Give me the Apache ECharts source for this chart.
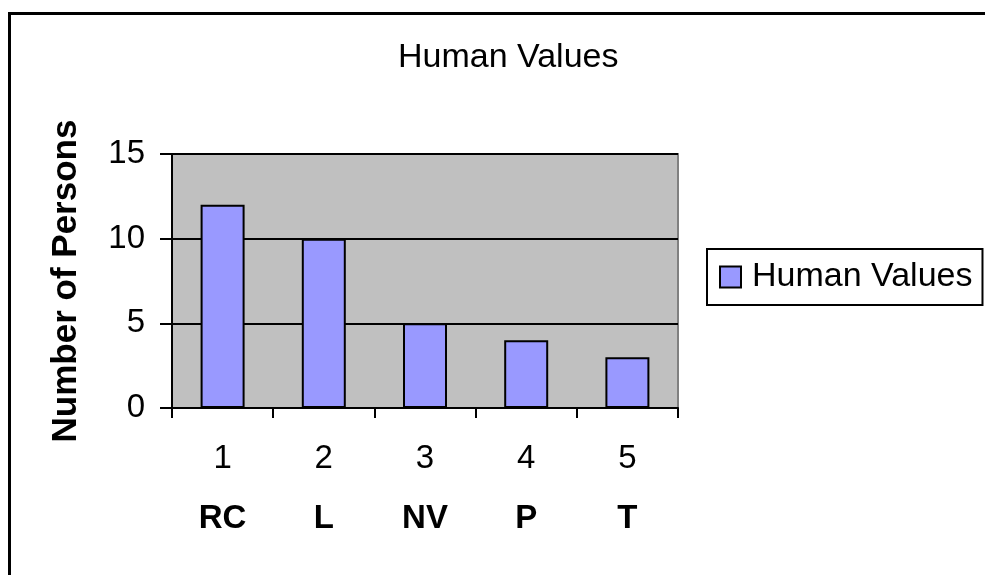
<!DOCTYPE html>
<html style="height: 100%">
<head>
    <meta charset="utf-8">
</head>
<body style="height: 100%; margin: 0; background: #fff">
<div id="container" style="width: 985px; height: 575px"></div>
<script type="text/javascript" src="https://cdn.jsdelivr.net/npm/echarts@6/dist/echarts.min.js"></script>
<script type="text/javascript">
  // chart data
  const xLabels = ['1', '2', '3', '4', '5'];
  const groupCodes = ['RC', 'L', 'NV', 'P', 'T'];
  const persons = [12, 10, 5, 4, 3];
  const seriesName = 'Human Values';
  const yTicks = { min: 0, max: 15, interval: 5 };

  const font = 'Liberation Sans, Arial, sans-serif';

  var dom = document.getElementById('container');
  var myChart = echarts.init(dom);
  var option = {
    backgroundColor: '#fff',
    textStyle: { fontFamily: font, color: '#000' },
    title: {
      text: 'Human Values',
      left: 393,
      top: 36,
      textStyle: { fontSize: 34, fontWeight: 'normal', color: '#000', fontFamily: font }
    },
    legend: {
      left: 707,
      top: 249,
      padding: [11, 10, 11, 12],
      borderColor: '#000',
      borderWidth: 2,
      icon: 'rect',
      itemWidth: 21,
      itemHeight: 21,
      itemGap: 10,
      textStyle: { fontSize: 34, color: '#000', fontFamily: font, padding: [0, 0, 0, 6] },
      data: [seriesName]
    },
    grid: {
      left: 172,
      top: 154,
      width: 506,
      height: 254,
      show: true,
      backgroundColor: '#c0c0c0',
      borderColor: '#808080',
      borderWidth: 2
    },
    xAxis: {
      type: 'category',
      data: xLabels,
      axisLine: { lineStyle: { color: '#000', width: 2 } },
      axisTick: { show: true, length: 10, lineStyle: { color: '#000', width: 2 } },
      axisLabel: {
        margin: 21,
        formatter: function (v, i) {
          return '{n|' + v + '}\n{b|' + groupCodes[i] + '}';
        },
        rich: {
          n: { fontSize: 33, lineHeight: 60, color: '#000', fontFamily: font },
          b: { fontSize: 33, lineHeight: 60, fontWeight: 'bold', color: '#000', fontFamily: font }
        }
      }
    },
    yAxis: {
      type: 'value',
      min: yTicks.min,
      max: yTicks.max,
      interval: yTicks.interval,
      name: 'Number of Persons',
      nameLocation: 'middle',
      nameRotate: 90,
      nameGap: 88,
      nameTextStyle: { fontSize: 35, fontWeight: 'bold', color: '#000', fontFamily: font },
      axisLine: { show: true, lineStyle: { color: '#000', width: 2 } },
      axisTick: { show: true, length: 12, lineStyle: { color: '#000', width: 2 } },
      axisLabel: { fontSize: 33, margin: 27, color: '#000', fontFamily: font },
      splitLine: { lineStyle: { color: '#000', width: 2 } }
    },
    graphic: [
      {
        type: 'rect',
        left: 7,
        top: 11,
        shape: { width: 1100, height: 700 },
        style: { fill: 'none', stroke: '#000', lineWidth: 3 },
        silent: true
      }
    ],
    series: [
      {
        name: seriesName,
        type: 'bar',
        data: persons,
        barWidth: 44,
        itemStyle: { color: '#9999ff', borderColor: '#000', borderWidth: 2 }
      }
    ]
  };
  myChart.setOption(option);
</script>
</body>
</html>
